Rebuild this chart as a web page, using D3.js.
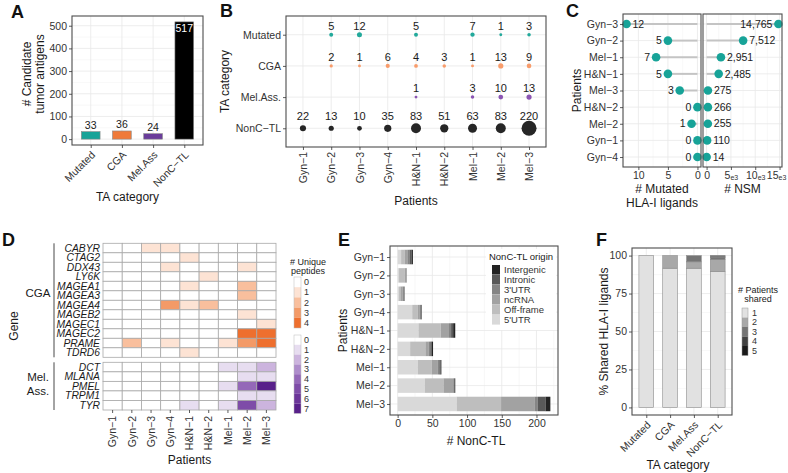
<!DOCTYPE html>
<html><head><meta charset="utf-8">
<script src="https://cdn.jsdelivr.net/npm/d3@7"></script>
<style>body{margin:0;background:#fff}</style>
</head><body><svg id="c" width="788" height="473"></svg>
<script>
// ---------------- DATA ----------------
const taCategories = ["Mutated","CGA","Mel.Ass","NonC\u2212TL"];
const taCounts = [33,36,24,517];
const patients = ["Gyn\u22121","Gyn\u22122","Gyn\u22123","Gyn\u22124","H&N\u22121","H&N\u22122","Mel\u22121","Mel\u22122","Mel\u22123"];
const bRows = ["Mutated","CGA","Mel.Ass.","NonC\u2212TL"];
const bMutated = [null,5,12,null,5,null,7,1,3];
const bCGA = [null,2,1,6,4,3,1,13,9];
const bMelAss = [null,null,null,null,1,null,3,10,13];
const bNonCTL = [22,13,10,35,83,51,63,83,220];
const cPatients = ["Gyn\u22123","Gyn\u22122","Mel\u22121","H&N\u22121","Mel\u22123","H&N\u22122","Mel\u22122","Gyn\u22121","Gyn\u22124"];
const cMutLigands = [12,5,7,5,3,0,1,0,0];
const cNSM = [14765,7512,2951,2485,275,266,255,110,14];
const cgaGenes = ["CABYR","CTAG2","DDX43","LY6K","MAGEA1","MAGEA3","MAGEA4","MAGEB2","MAGEC1","MAGEC2","PRAME","TDRD6"];
const cgaPeptides = [
  [0,0,1,1,0,0,0,0,0],
  [0,0,0,0,1,0,0,0,0],
  [0,0,0,1,0,0,0,1,0],
  [0,0,0,0,0,1,0,0,0],
  [0,0,0,0,1,0,0,2,0],
  [0,0,0,0,0,0,0,2,0],
  [0,0,0,3,1,2,0,0,0],
  [0,0,0,0,0,0,0,1,0],
  [0,0,0,0,0,0,0,0,1],
  [0,0,0,0,0,0,0,4,4],
  [0,2,0,1,0,0,1,3,4],
  [0,0,0,0,1,0,0,0,0]];
const melGenes = ["DCT","MLANA","PMEL","TRPM1","TYR"];
const melPeptides = [
  [0,0,0,0,0,0,1,1,2],
  [0,0,0,0,0,0,0,1,1],
  [0,0,0,0,0,0,1,4,7],
  [0,0,0,0,0,0,0,1,1],
  [0,0,0,0,1,0,1,5,2]];
const cgaLevels = [0,1,2,3,4];
const melLevels = [0,1,2,3,4,5,6,7];
const originTypes = ["5'UTR","Off-frame","ncRNA","3'UTR","Intronic","Intergenic"];
const utr5 =       [5,2,2,21,30,18,29,39,85];
const offFrame =   [5,8,2,8,32,22,20,27,64];
const ncRNA =      [4,2,3,3,12,5,9,14,48];
const utr3 =       [3,1,2,2,3,2,2,1,5];
const intronic =   [3,0,1,1,3,2,2,1,11];
const intergenic = [2,0,0,0,3,2,1,1,7];
const sharedLevels = ["1","2","3","4","5"];
const shared1 = [100,91.7,91.7,89.6];
const shared2 = [0,8.3,4.2,7.7];
const shared3 = [0,0,4.1,1.4];
const shared4 = [0,0,0,0.8];
const shared5 = [0,0,0,0.5];

// ---------------- HELPERS ----------------
const FONT = '"Liberation Sans", Arial, Helvetica, sans-serif';
const svg = d3.select("#c").style("font-family", FONT);
const GRID = "#e8e8e8", GRIDMIN = "#f3f3f3", BORDER = "#4d4d4d", TICK = "#333";
function bg(g,x0,y0,x1,y1){ g.append("rect").attr("x",x0).attr("y",y0).attr("width",x1-x0).attr("height",y1-y0).attr("fill","#fff"); }
function border(g,x0,y0,x1,y1){ g.append("rect").attr("x",x0).attr("y",y0).attr("width",x1-x0).attr("height",y1-y0).attr("fill","none").attr("stroke",BORDER).attr("stroke-width",1.1); }
function vlines(g,xs,y0,y1,col,w){ g.selectAll(null).data(xs).join("line").attr("x1",d=>d).attr("x2",d=>d).attr("y1",y0).attr("y2",y1).attr("stroke",col).attr("stroke-width",w); }
function hlines(g,ys,x0,x1,col,w){ g.selectAll(null).data(ys).join("line").attr("y1",d=>d).attr("y2",d=>d).attr("x1",x0).attr("x2",x1).attr("stroke",col).attr("stroke-width",w); }
function styleAxis(sel, fs){
  sel.select(".domain").remove();
  sel.selectAll(".tick line").attr("stroke",TICK).attr("stroke-width",0.8);
  sel.selectAll(".tick text").attr("fill","#333").style("font-size",fs+"px").style("font-family",FONT);
}
function txt(g,s,x,y,opt={}){
  const t = g.append("text").attr("x",x).attr("y",y).text(s)
    .attr("font-size",(opt.size||12)+"px").attr("fill",opt.fill||"#1a1a1a")
    .attr("text-anchor",opt.anchor||"middle");
  if(opt.rot) t.attr("transform",`rotate(${opt.rot},${x},${y})`);
  if(opt.bold) t.attr("font-weight","bold");
  if(opt.italic) t.attr("font-style","italic");
  if(opt.dy) t.attr("dy",opt.dy);
  return t;
}
function letter(s,x,y){ txt(svg,s,x,y,{size:18,bold:true,anchor:"start",fill:"#111"}); }

// ---------------- PANEL A ----------------
{
  const g = svg.append("g");
  const X0=72,X1=203,Y0=16,Y1=145;
  const x = d3.scalePoint().domain(taCategories).range([X0,X1]).padding(0.6);
  const y = d3.scaleLinear().domain([-25.85,542.85]).range([Y1,Y0]);
  const colors = d3.scaleOrdinal().domain(taCategories).range(["#17a398","#ef7a3a","#6a3d9a","#000000"]);
  bg(g,X0,Y0,X1,Y1);
  hlines(g,[50,150,250,350,450].map(y),X0,X1,GRIDMIN,0.6);
  hlines(g,[0,100,200,300,400,500].map(y),X0,X1,GRID,0.8);
  vlines(g,taCategories.map(x),Y0,Y1,GRID,0.8);
  const bw = x.step()*0.6;
  g.selectAll(null).data(taCategories).join("rect")
    .attr("x",d=>x(d)-bw/2).attr("width",bw)
    .attr("y",(d,i)=>y(taCounts[i])).attr("height",(d,i)=>y(0)-y(taCounts[i]))
    .attr("fill",d=>colors(d)).attr("stroke","#888").attr("stroke-width",0.6);
  taCategories.forEach((c,i)=>{
    const yy = y(taCounts[i]);
    if (yy-4 < Y0+12) txt(g,taCounts[i],x(c),yy+10,{size:10.5,fill:"#fff"});
    else txt(g,taCounts[i],x(c),yy-3,{size:10.5});
  });
  border(g,X0,Y0,X1,Y1);
  const ya = g.append("g").attr("transform",`translate(${X0},0)`).call(d3.axisLeft(y).tickValues([0,100,200,300,400,500]).tickSize(3).tickPadding(2));
  styleAxis(ya,10.5);
  const xa = g.append("g").attr("transform",`translate(0,${Y1})`).call(d3.axisBottom(x).tickSize(3));
  styleAxis(xa,10.5);
  xa.selectAll(".tick text").attr("x",0).attr("y",0).attr("dy","0.35em").attr("text-anchor","end").attr("transform","translate(2,8) rotate(-45)");
  txt(g,"TA category",(X0+X1)/2-10,201,{size:12});
  txt(g,"# Candidate",31,74,{size:12,rot:-90});
  txt(g,"tumor antigens",44,74,{size:12,rot:-90});
  letter("A",11,18);
}

// ---------------- PANEL B ----------------
{
  const g = svg.append("g");
  const X0=286,X1=546,Y0=16,Y1=147;
  const x = d3.scalePoint().domain(patients).range([X0,X1]).padding(0.6);
  const y = d3.scalePoint().domain(bRows).range([Y0,Y1]).padding(0.6);
  const r = d3.scaleSqrt().domain([0,220]).range([1,7.5]);
  const series = [bMutated,bCGA,bMelAss,bNonCTL];
  const cols = d3.scaleOrdinal().domain(bRows).range(["#22a99b","#f89c6b","#8b55b3","#262626"]);
  bg(g,X0,Y0,X1,Y1);
  vlines(g,patients.map(x),Y0,Y1,GRID,0.8);
  hlines(g,bRows.map(y),X0,X1,GRID,0.8);
  bRows.forEach((row,ri)=>{
    const vals = series[ri];
    const pts = patients.map((p,i)=>({p,v:vals[i]})).filter(d=>d.v!==null);
    const rmax = d3.max(pts,d=>r(d.v));
    g.selectAll(null).data(pts).join("circle")
      .attr("cx",d=>x(d.p)).attr("cy",y(row)).attr("r",d=>r(d.v)).attr("fill",cols(row));
    pts.forEach(d=>txt(g,d.v,x(d.p),y(row)-(7+0.7*rmax),{size:11,dy:"0.35em"}));
  });
  border(g,X0,Y0,X1,Y1);
  const ya = g.append("g").attr("transform",`translate(${X0},0)`).call(d3.axisLeft(y).tickSize(3).tickPadding(2));
  styleAxis(ya,10.5);
  const xa = g.append("g").attr("transform",`translate(0,${Y1})`).call(d3.axisBottom(x).tickSize(3));
  styleAxis(xa,10.5);
  xa.selectAll(".tick text").attr("x",0).attr("y",0).attr("dy","0.35em").attr("text-anchor","end").attr("transform","translate(0,5) rotate(-90)");
  txt(g,"Patients",(X0+X1)/2,205,{size:12});
  txt(g,"TA category",229,(Y0+Y1)/2,{size:12,rot:-90});
  letter("B",220,17);
}

// ---------------- PANEL C ----------------
{
  const g = svg.append("g");
  const Y0=14,Y1=167, L0=623,L1=701, R0=703,R1=782;
  const y = d3.scalePoint().domain(cPatients).range([Y0,Y1]).padding(0.6);
  const xl = d3.scaleLinear().domain([-0.6,12.6]).range([L1,L0]);
  const xr = d3.scaleLinear().domain([-738.25,15503.25]).range([R0,R1]);
  const teal = "#17a398";
  bg(g,L0,Y0,L1,Y1); bg(g,R0,Y0,R1,Y1);
  vlines(g,[2.5,7.5,12.5].map(xl),Y0,Y1,GRIDMIN,0.6);
  vlines(g,[0,5,10].map(xl),Y0,Y1,GRID,0.8);
  hlines(g,cPatients.map(y),L0,L1,GRID,0.8);
  vlines(g,[2500,7500,12500].map(xr),Y0,Y1,GRIDMIN,0.6);
  vlines(g,[0,5000,10000,15000].map(xr),Y0,Y1,GRID,0.8);
  hlines(g,cPatients.map(y),R0,R1,GRID,0.8);
  const maxL = d3.max(cMutLigands), maxR = d3.max(cNSM);
  cPatients.forEach((p,i)=>{
    const v=cMutLigands[i], w=cNSM[i];
    g.append("line").attr("x1",xl(0)).attr("x2",xl(v)).attr("y1",y(p)).attr("y2",y(p)).attr("stroke","#c4c4c4").attr("stroke-width",2);
    g.append("line").attr("x1",xr(0)).attr("x2",xr(w)).attr("y1",y(p)).attr("y2",y(p)).attr("stroke","#c4c4c4").attr("stroke-width",2);
  });
  cPatients.forEach((p,i)=>{
    const v=cMutLigands[i], w=cNSM[i];
    g.append("circle").attr("cx",xl(v)).attr("cy",y(p)).attr("r",4.3).attr("fill",teal);
    g.append("circle").attr("cx",xr(w)).attr("cy",y(p)).attr("r",4.3).attr("fill",teal);
    if (v===maxL) txt(g,v,xl(v)+6,y(p),{size:10.5,anchor:"start",dy:"0.35em"});
    else txt(g,v,xl(v)-6,y(p),{size:10.5,anchor:"end",dy:"0.35em"});
    if (w===maxR) txt(g,d3.format(",")(w),xr(w)-6,y(p),{size:10.5,anchor:"end",dy:"0.35em"});
    else txt(g,d3.format(",")(w),xr(w)+6,y(p),{size:10.5,anchor:"start",dy:"0.35em"});
  });
  border(g,L0,Y0,L1,Y1); border(g,R0,Y0,R1,Y1);
  const ya = g.append("g").attr("transform",`translate(${L0},0)`).call(d3.axisLeft(y).tickSize(3).tickPadding(2));
  styleAxis(ya,10.5);
  const xa1 = g.append("g").attr("transform",`translate(0,${Y1})`).call(d3.axisBottom(xl).tickValues([0,5,10]).tickSize(3).tickPadding(2));
  styleAxis(xa1,10.5);
  const xa2 = g.append("g").attr("transform",`translate(0,${Y1})`).call(d3.axisBottom(xr).tickValues([0,5000,10000,15000]).tickSize(3).tickPadding(2).tickFormat(()=>""));
  styleAxis(xa2,10.5);
  xa2.selectAll(".tick text").each(function(d){
    const t=d3.select(this);
    if(d===0){ t.text("0"); return; }
    t.append("tspan").text(d/1000);
    t.append("tspan").text("e3").attr("font-size","7px").attr("dy","1");
    if(d===15000) t.attr("x",-3.5);
  });
  txt(g,"# Mutated",(L0+L1)/2,193,{size:12});
  txt(g,"HLA-I ligands",(L0+L1)/2,207,{size:12});
  txt(g,"# NSM",(R0+R1)/2,193,{size:12});
  txt(g,"Patients",581,(Y0+Y1)/2,{size:12,rot:-90});
  letter("C",566,17);
}

// ---------------- PANEL D ----------------
{
  const g = svg.append("g");
  const X0=103,X1=276;
  const x = d3.scaleBand().domain(patients).range([X0,X1]);
  const yc = d3.scaleBand().domain(cgaGenes).range([243.3,357.3]);
  const ym = d3.scaleBand().domain(melGenes).range([362.3,410]);
  const oranges = d3.scaleOrdinal().domain(cgaLevels).range(["#ffffff","#fde3d4","#f9bf9d","#f39a67","#ee6f2e"]);
  const purples = d3.scaleOrdinal().domain(melLevels).range(["#ffffff","#e7ddf0","#ccb4de","#ae8dcb","#9468b8","#7e4ca8","#6b3599","#58208a"]);
  function block(genes,mat,ys,col){
    genes.forEach((gn,ri)=>{
      g.selectAll(null).data(patients).join("rect")
        .attr("x",d=>x(d)).attr("y",ys(gn)).attr("width",x.bandwidth()).attr("height",ys.bandwidth())
        .attr("fill",(d,ci)=>col(mat[ri][ci])).attr("stroke","#a9a9a9").attr("stroke-width",0.8);
      txt(g,gn,X0-3,ys(gn)+ys.bandwidth()/2,{size:10.3,anchor:"end",italic:true,dy:"0.35em"});
    });
  }
  block(cgaGenes,cgaPeptides,yc,oranges);
  block(melGenes,melPeptides,ym,purples);
  g.append("line").attr("x1",54).attr("x2",54).attr("y1",243.3).attr("y2",357.3).attr("stroke","#333").attr("stroke-width",0.9);
  g.append("line").attr("x1",54).attr("x2",54).attr("y1",362.3).attr("y2",410).attr("stroke","#333").attr("stroke-width",0.9);
  txt(g,"CGA",38,297,{size:11.5});
  txt(g,"Mel.",38,381,{size:11.5});
  txt(g,"Ass.",38,395,{size:11.5});
  patients.forEach(p=>{
    g.append("line").attr("x1",x(p)+x.bandwidth()/2).attr("x2",x(p)+x.bandwidth()/2).attr("y1",410).attr("y2",413).attr("stroke",TICK).attr("stroke-width",0.8);
    txt(g,p,x(p)+x.bandwidth()/2,416,{size:10.5,anchor:"end",rot:-90,dy:"0.35em",fill:"#333"});
  });
  txt(g,"Patients",(X0+X1)/2,464,{size:12});
  txt(g,"Gene",18,326,{size:12,rot:-90});
  // legends
  txt(g,"# Unique",308,265,{size:9});
  txt(g,"peptides",308,274,{size:9});
  const kh=10.2;
  cgaLevels.forEach((l,i)=>{
    g.append("rect").attr("x",294).attr("y",277+i*kh).attr("width",7).attr("height",kh).attr("fill",oranges(l));
    txt(g,l,304,277+i*kh+kh/2,{size:9,anchor:"start",dy:"0.35em",fill:"#333"});
  });
  g.append("rect").attr("x",294).attr("y",277).attr("width",7).attr("height",kh*5).attr("fill","none").attr("stroke","#bbb").attr("stroke-width",0.5);
  const kh2=9.8;
  melLevels.forEach((l,i)=>{
    g.append("rect").attr("x",294).attr("y",335+i*kh2).attr("width",7).attr("height",kh2).attr("fill",purples(l));
    txt(g,l,304,335+i*kh2+kh2/2,{size:9,anchor:"start",dy:"0.35em",fill:"#333"});
  });
  g.append("rect").attr("x",294).attr("y",335).attr("width",7).attr("height",kh2*8).attr("fill","none").attr("stroke","#bbb").attr("stroke-width",0.5);
  letter("D",2,246);
}

// ---------------- PANEL E ----------------
{
  const g = svg.append("g");
  const X0=390,X1=558,Y0=246,Y1=415;
  const y = d3.scalePoint().domain(patients).range([Y0,Y1]).padding(0.6);
  const x = d3.scaleLinear().domain([-11,231]).range([X0,X1]);
  const cols = d3.scaleOrdinal().domain(originTypes).range(["#d9d9d9","#bebebe","#a2a2a2","#858585","#595959","#232323"]);
  const seriesArr = [utr5,offFrame,ncRNA,utr3,intronic,intergenic];
  const rows = patients.map((p,i)=>{ const o={patient:p}; originTypes.forEach((t,k)=>o[t]=seriesArr[k][i]); return o; });
  const stack = d3.stack().keys(originTypes)(rows);
  bg(g,X0,Y0,X1,Y1);
  vlines(g,[25,75,125,175,225].map(x),Y0,Y1,GRIDMIN,0.6);
  vlines(g,[0,50,100,150,200].map(x),Y0,Y1,GRID,0.8);
  hlines(g,patients.map(y),X0,X1,GRID,0.8);
  const bh = 14.5;
  stack.forEach(s=>{
    g.selectAll(null).data(s).join("rect")
      .attr("x",d=>x(d[0])).attr("width",d=>x(d[1])-x(d[0]))
      .attr("y",d=>y(d.data.patient)-bh/2).attr("height",bh)
      .attr("fill",cols(s.key));
  });
  // legend
  g.append("rect").attr("x",486).attr("y",249).attr("width",70).attr("height",81).attr("fill","#fff");
  txt(g,"NonC-TL origin",521,260,{size:9.5});
  originTypes.slice().reverse().forEach((t,i)=>{
    g.append("rect").attr("x",492).attr("y",265+i*10).attr("width",8).attr("height",9.6).attr("fill",cols(t));
    txt(g,t,504,265+i*10+4.8,{size:9.5,anchor:"start",dy:"0.35em",fill:"#333"});
  });
  border(g,X0,Y0,X1,Y1);
  const ya = g.append("g").attr("transform",`translate(${X0},0)`).call(d3.axisLeft(y).tickSize(3).tickPadding(2));
  styleAxis(ya,10.5);
  const xa = g.append("g").attr("transform",`translate(0,${Y1})`).call(d3.axisBottom(x).tickValues([0,50,100,150,200]).tickSize(3).tickPadding(2));
  styleAxis(xa,10.5);
  txt(g,"# NonC-TL",(X0+X1)/2+2,445,{size:12});
  txt(g,"Patients",347,(Y0+Y1)/2,{size:12,rot:-90});
  letter("E",338,246);
}

// ---------------- PANEL F ----------------
{
  const g = svg.append("g");
  const X0=632,X1=732,Y0=248,Y1=415;
  const x = d3.scalePoint().domain(taCategories).range([X0,X1]).padding(0.6);
  const y = d3.scaleLinear().domain([-5,105]).range([Y1,Y0]);
  const cols = d3.scaleOrdinal().domain(sharedLevels).range(["#e1e1e1","#a8a8a8","#747474","#414141","#1a1a1a"]);
  const sArr = [shared1,shared2,shared3,shared4,shared5];
  const rows = taCategories.map((c,i)=>{ const o={cat:c}; sharedLevels.forEach((l,k)=>o[l]=sArr[k][i]); return o; });
  const stack = d3.stack().keys(sharedLevels)(rows);
  bg(g,X0,Y0,X1,Y1);
  hlines(g,[12.5,37.5,62.5,87.5].map(y),X0,X1,GRIDMIN,0.6);
  hlines(g,[0,25,50,75,100].map(y),X0,X1,GRID,0.8);
  vlines(g,taCategories.map(x),Y0,Y1,GRID,0.8);
  const bw = x.step()*0.62;
  stack.forEach(s=>{
    g.selectAll(null).data(s.filter(d=>d[1]-d[0]>0)).join("rect")
      .attr("x",d=>x(d.data.cat)-bw/2).attr("width",bw)
      .attr("y",d=>y(d[1])).attr("height",d=>y(d[0])-y(d[1]))
      .attr("fill",cols(s.key)).attr("stroke","#8c8c8c").attr("stroke-width",0.6);
  });
  border(g,X0,Y0,X1,Y1);
  const ya = g.append("g").attr("transform",`translate(${X0},0)`).call(d3.axisLeft(y).tickValues([0,25,50,75,100]).tickSize(3).tickPadding(2));
  styleAxis(ya,10.5);
  const xa = g.append("g").attr("transform",`translate(0,${Y1})`).call(d3.axisBottom(x).tickSize(3));
  styleAxis(xa,10.5);
  xa.selectAll(".tick text").attr("x",0).attr("y",0).attr("dy","0.35em").attr("text-anchor","end").attr("transform","translate(2,8) rotate(-45)");
  txt(g,"TA category",(X0+X1)/2-4,469,{size:12});
  txt(g,"% Shared HLA-I ligands",608,(Y0+Y1)/2,{size:12,rot:-90});
  txt(g,"# Patients",758,293,{size:9});
  txt(g,"shared",758,302,{size:9});
  sharedLevels.forEach((l,i)=>{
    g.append("rect").attr("x",742).attr("y",308+i*9.5).attr("width",6).attr("height",9.5).attr("fill",cols(l));
    txt(g,l,752,308+i*9.5+4.75,{size:9,anchor:"start",dy:"0.35em",fill:"#333"});
  });
  g.append("rect").attr("x",742).attr("y",308).attr("width",6).attr("height",9.5*5).attr("fill","none").attr("stroke","#999").attr("stroke-width",0.5);
  letter("F",596,246);
}
</script>
</body></html>
